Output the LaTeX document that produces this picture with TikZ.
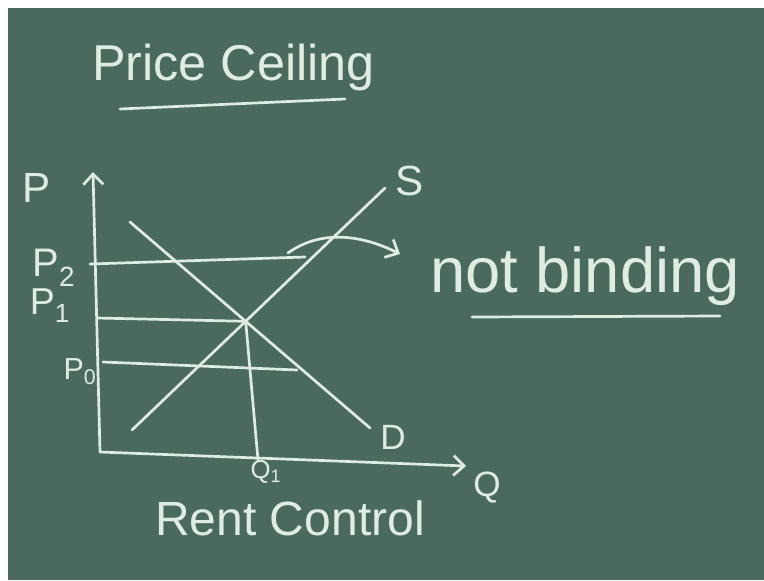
\documentclass[tikz,border=0pt]{standalone}
\usepackage{fontspec}
\setmainfont{Liberation Sans}
\definecolor{boardgreen}{RGB}{74,106,94}
\definecolor{chalkwhite}{RGB}{222,236,226}
\usetikzlibrary{arrows.meta,positioning,calc}
\tikzset{
  chalk/.style={draw=chalkwhite, line width=2.3pt, line cap=round},
  chalkarrow/.style={chalk, -{Straight Barb[length=9pt,width=17pt,line width=2.3pt]}},
  chalktext/.style={text=chalkwhite, inner sep=0pt}
}

\begin{document}
\begin{tikzpicture}[x=0.03cm, y=-0.03cm]
            % board
            \fill[white] (0,0) rectangle (764,580);
            \fill[boardgreen] (8,8) rectangle (764,580);
            \useasboundingbox (0,0) rectangle (764,580);

            % titles
            \node[chalktext, anchor=base west, font=\fontsize{43}{50}\selectfont] (title) at (92,80) {Price Ceiling};
            \draw[chalk] (120,109) -- (345,99);
            \node[chalktext, anchor=base west, font=\fontsize{54}{60}\selectfont] (nb) at (430,292) {not binding};
            \draw[chalk] (472,317) -- (720,316);
            \node[chalktext, anchor=base west, font=\fontsize{41}{48}\selectfont] (rent) at (155,535) {Rent Control};

            % axes
            \coordinate (O) at (100,452);
            \coordinate (ytop) at (93,172);
            \coordinate (xend) at (466,466);
            \draw[chalkarrow] (O) -- (ytop);
            \draw[chalkarrow] (O) -- (xend);
            \node[chalktext, font=\fontsize{36}{42}\selectfont] (plab) at (37,188) {P};
            \node[chalktext, font=\fontsize{30}{36}\selectfont] (qlab) at (487,488) {Q};

            % supply and demand
            \coordinate (s0) at (132,430); \coordinate (s1) at (385,188);
            \coordinate (d0) at (130,222); \coordinate (d1) at (370,428);
            \draw[chalk] (s0) -- (s1);
            \draw[chalk] (d0) -- (d1);
            \coordinate (E) at (intersection of s0--s1 and d0--d1);
            \node[chalktext, font=\fontsize{36}{42}\selectfont] (slab) at (410,181) {S};
            \node[chalktext, font=\fontsize{30}{36}\selectfont] (dlab) at (393,437) {D};

            % price lines
            \coordinate (p2a) at (90,264); \coordinate (p2b) at (305,257);
            \coordinate (p1a) at (97,318);
            \coordinate (p0a) at (103,362); \coordinate (p0b) at (297,370);
            \coordinate (q1) at (258,460);
            \draw[chalk] (p2a) -- (p2b);
            \draw[chalk] (p1a) -- (E);
            \draw[chalk] (p0a) -- (p0b);
            \draw[chalk] (E) -- (q1);
            \node[chalktext, font=\fontsize{34}{40}\selectfont] (p2lab) at (54,268) {P\textsubscript{2}};
            \node[chalktext, font=\fontsize{32}{38}\selectfont] (p1lab) at (50,306) {P\textsubscript{1}};
            \node[chalktext, font=\fontsize{26}{30}\selectfont] (p0lab) at (80,372) {P\textsubscript{0}};
            \node[chalktext, font=\fontsize{22}{26}\selectfont] (q1lab) at (266,472) {Q\textsubscript{1}};

            % not binding arrow
            \coordinate (arr) at (400,254);
            \draw[chalkarrow] (288,253) .. controls (320,230) and (360,234) .. (arr);
        \end{tikzpicture}
\end{document}
